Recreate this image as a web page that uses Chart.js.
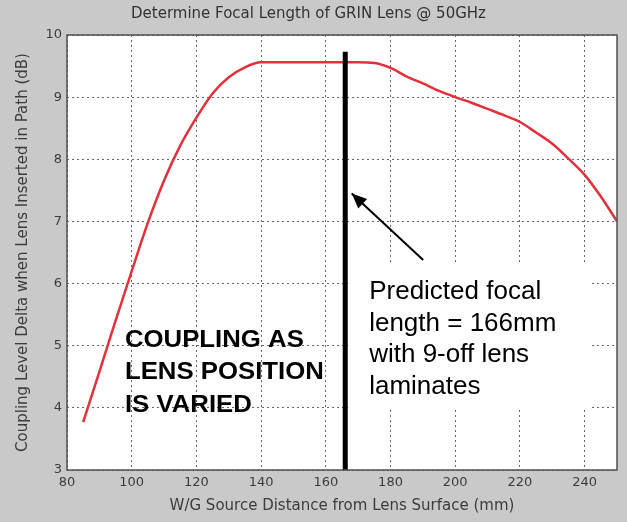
<!DOCTYPE html>
<html>
<head>
<meta charset="utf-8">
<script src="https://cdn.jsdelivr.net/npm/chart.js@4.4.1/dist/chart.umd.min.js"></script>
<style>
  html, body { margin: 0; padding: 0; background: #c9c9c9; }
  #wrap { width: 627px; height: 522px; }
</style>
</head>
<body>
<div id="wrap"><canvas id="c" width="627" height="522"></canvas></div>
<script>
// ---- data ----
const distances = [85, 90, 95, 100, 105, 110, 115, 120, 125, 130, 135, 140, 145, 150, 155, 160, 165, 170, 175, 180, 185, 190, 195, 200, 205, 210, 215, 220, 225, 230, 235, 240, 245, 250];
const couplingDelta = [3.77, 4.58, 5.40, 6.20, 6.98, 7.66, 8.22, 8.67, 9.06, 9.32, 9.48, 9.56, 9.56, 9.56, 9.56, 9.56, 9.56, 9.56, 9.55, 9.47, 9.33, 9.22, 9.10, 9.00, 8.91, 8.81, 8.71, 8.60, 8.43, 8.25, 8.01, 7.75, 7.40, 7.00];
const xTickLabels = [80, 100, 120, 140, 160, 180, 200, 220, 240];
const yTickLabels = [3, 4, 5, 6, 7, 8, 9, 10];
const focalX = [166, 166];
const focalY = [9.73, 3];
const arrowX = [190.1, 168.0];   // tail -> tip
const arrowY = [6.38, 7.45];

const titleText = 'Determine Focal Length of GRIN Lens @ 50GHz';
const xTitle = 'W/G Source Distance from Lens Surface (mm)';
const yTitle = 'Coupling Level Delta when Lens Inserted in Path (dB)';
const noteLeft = ['COUPLING AS', 'LENS POSITION', 'IS VARIED'];
const noteRight = ['Predicted focal', 'length = 166mm', 'with 9-off lens', 'laminates'];

const curvePts = distances.map((d, i) => ({ x: d, y: couplingDelta[i] }));
const focalPts = focalX.map((d, i) => ({ x: d, y: focalY[i] }));
const arrowPts = arrowX.map((d, i) => ({ x: d, y: arrowY[i] }));

const tickFont = { family: 'DejaVu Sans', size: 13 };
const gridCol = '#666666';

const decor = {
  id: 'decor',
  beforeDraw(chart) {
    const { ctx, chartArea: a } = chart;
    ctx.save();
    ctx.fillStyle = '#c9c9c9';
    ctx.fillRect(0, 0, chart.width, chart.height);
    ctx.fillStyle = '#ffffff';
    ctx.fillRect(a.left, a.top, a.right - a.left, a.bottom - a.top);
    ctx.restore();
  },
  beforeDatasetsDraw(chart) {
    const { ctx, scales: { x, y } } = chart;
    ctx.save();
    // white text box for the right-hand note
    const bx = x.getPixelForValue(166.9), by = y.getPixelForValue(6.34);
    const bx2 = x.getPixelForValue(241.7), by2 = y.getPixelForValue(3.97);
    ctx.fillStyle = '#ffffff';
    ctx.fillRect(bx, by, bx2 - bx, by2 - by);
    ctx.fillStyle = '#000000';
    ctx.font = '26px "Liberation Sans", Arial, sans-serif';
    ctx.textBaseline = 'alphabetic';
    const rx = x.getPixelForValue(173.4);
    const base = y.getPixelForValue(5.75);
    noteRight.forEach((t, i) => ctx.fillText(t, rx, base + i * 31.5));
    // left note (no box)
    ctx.font = 'bold 23px "Liberation Sans", Arial, sans-serif';
    const lx = x.getPixelForValue(97.9);
    const lbase = y.getPixelForValue(4.98);
    noteLeft.forEach((t, i) => {
      ctx.save();
      ctx.translate(lx, lbase + i * 32.5);
      ctx.scale(1.12, 1);
      ctx.fillText(t, 0, 0);
      ctx.restore();
    });
    ctx.restore();
  },
  afterDatasetsDraw(chart) {
    const { ctx, chartArea: a, scales: { x, y } } = chart;
    ctx.save();
    // arrow head
    const tx = x.getPixelForValue(arrowX[1]), ty = y.getPixelForValue(arrowY[1]);
    const sx = x.getPixelForValue(arrowX[0]), sy = y.getPixelForValue(arrowY[0]);
    const ang = Math.atan2(ty - sy, tx - sx);
    const L = 15, W = 6.5;
    ctx.fillStyle = '#000';
    ctx.beginPath();
    ctx.moveTo(tx, ty);
    ctx.lineTo(tx - L * Math.cos(ang) + W * Math.sin(ang), ty - L * Math.sin(ang) - W * Math.cos(ang));
    ctx.lineTo(tx - L * Math.cos(ang) - W * Math.sin(ang), ty - L * Math.sin(ang) + W * Math.cos(ang));
    ctx.closePath();
    ctx.fill();
    // plot box
    ctx.strokeStyle = '#505050';
    ctx.lineWidth = 1.5;
    ctx.strokeRect(a.left, a.top, a.right - a.left, a.bottom - a.top);
    ctx.restore();
  }
};

new Chart(document.getElementById('c'), {
  type: 'scatter',
  data: {
    datasets: [
      { data: curvePts, showLine: true, borderColor: '#e5303c', borderWidth: 2.5, pointRadius: 0, tension: 0.3, cubicInterpolationMode: 'monotone', order: 2 },
      { data: focalPts, showLine: true, borderColor: '#000000', borderWidth: 5, pointRadius: 0, order: 1 },
      { data: arrowPts, showLine: true, borderColor: '#000000', borderWidth: 2, pointRadius: 0, order: 1 }
    ]
  },
  options: {
    responsive: false,
    animation: false,
    devicePixelRatio: 1,
    layout: { padding: { left: 0, right: 10, top: 0, bottom: 0 } },
    plugins: {
      legend: { display: false },
      tooltip: { enabled: false },
      title: {
        display: true, text: titleText, color: '#333333',
        font: { family: 'DejaVu Sans', size: 15, weight: 'normal', lineHeight: 1.12 },
        padding: { top: 6, bottom: 12.2 }
      }
    },
    scales: {
      x: {
        type: 'linear', min: 80, max: 250,
        afterFit(s) { s.height = 52; },
        afterBuildTicks(s) { s.ticks = xTickLabels.map(v => ({ value: v })); },
        ticks: { font: tickFont, color: '#3c3c3c', padding: 5, maxRotation: 0, autoSkip: false },
        grid: { color: gridCol, lineWidth: 1, drawTicks: false },
        border: { display: false, dash: [2, 3] },
        title: { display: true, text: xTitle, color: '#3c3c3c', font: { family: 'DejaVu Sans', size: 15 }, padding: { top: 7, bottom: 7 } }
      },
      y: {
        type: 'linear', min: 3, max: 10,
        afterFit(s) { s.width = 67; },
        afterBuildTicks(s) { s.ticks = yTickLabels.map(v => ({ value: v })); },
        ticks: { font: tickFont, color: '#3c3c3c', padding: 5, autoSkip: false },
        grid: { color: gridCol, lineWidth: 1, drawTicks: false },
        border: { display: false, dash: [2, 3] },
        title: { display: true, text: yTitle, color: '#3c3c3c', font: { family: 'DejaVu Sans', size: 15 }, padding: { top: 14, bottom: 14 } }
      }
    }
  },
  plugins: [decor]
});
</script>
</body>
</html>
